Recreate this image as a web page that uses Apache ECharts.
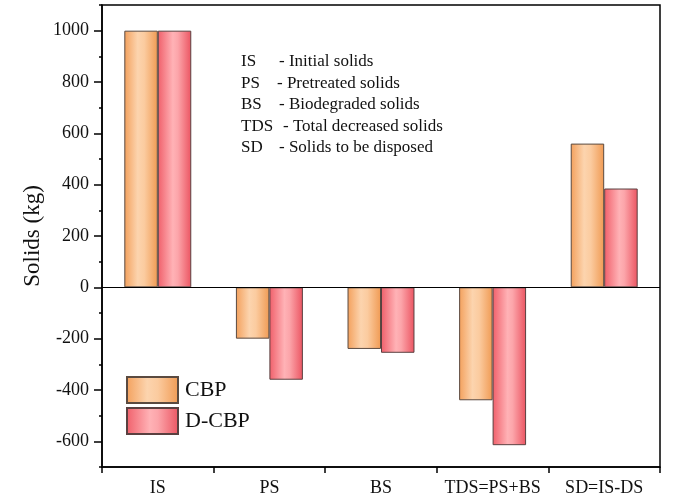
<!DOCTYPE html>
<html>
<head>
<meta charset="utf-8">
<script src="https://cdn.jsdelivr.net/npm/echarts@6/dist/echarts.min.js"></script>
<style>
  html, body { margin: 0; padding: 0; background: #fff; }
  #chart { width: 678px; height: 504px; }
</style>
</head>
<body>
<div id="chart"></div>
<script>
// Solids balance per stage (kg)
const categories = ['IS', 'PS', 'BS', 'TDS=PS+BS', 'SD=IS-DS'];
const cbp = [1000, -200, -240, -440, 560];
const dcbp = [1000, -360, -255, -615, 385];
const seriesNames = ['CBP', 'D-CBP'];

// Abbreviation key shown inside the plot
const keyAbbr = ['IS', 'PS', 'BS', 'TDS', 'SD'];
const keyText = ['- Initial solids', '- Pretreated solids', '- Biodegraded solids',
                 '- Total decreased solids', '- Solids to be disposed'];

const yMin = -700, yMax = 1100;       // full axis extent (minor ticks every 100)
const yLabMin = -600, yLabMax = 1000; // labelled range (major ticks every 200)

const W = 678, H = 504;
const gLeft = 102, gRight = 18, gTop = 5, gBottom = 37;
const plotH = H - gTop - gBottom;
const pxPerUnit = plotH / (yMax - yMin);
// second grid carries the labelled major ticks, aligned to the same scale
const g2Top = gTop + (yMax - yLabMax) * pxPerUnit;
const g2Bottom = gBottom + (yLabMin - yMin) * pxPerUnit;

const serif = '"Liberation Serif", "Times New Roman", serif';
const ink = '#111';
const tickStyle = { color: '#000', width: 1.5 };

function grad(stops) {
  return { type: 'linear', x: 0, y: 0, x2: 1, y2: 0,
    colorStops: stops.map(s => ({ offset: s[0], color: s[1] })) };
}
const orangeFill = grad([[0, '#f3a05c'], [0.4, '#fcd4ae'], [0.6, '#fbcb9f'], [1, '#f09a53']]);
const redFill = grad([[0, '#f05f6a'], [0.45, '#ffb2b6'], [0.6, '#fca5aa'], [1, '#eb5461']]);

const chart = echarts.init(document.getElementById('chart'), null, { renderer: 'canvas' });

const keyGraphics = [];
const keyTop = 53, keyStep = 21.6;
keyAbbr.forEach((a, i) => {
  keyGraphics.push({ type: 'text', left: 241, top: keyTop + i * keyStep,
    style: { text: a, font: '17px ' + serif, fill: ink } });
  keyGraphics.push({ type: 'text', left: a === 'TDS' ? 283 : (a === 'PS' ? 277 : 279), top: keyTop + i * keyStep,
    style: { text: keyText[i], font: '17px ' + serif, fill: ink } });
});

chart.setOption({
  animation: false,
  backgroundColor: '#fff',
  textStyle: { fontFamily: serif, color: ink },
  grid: [
    { left: gLeft, right: gRight, top: gTop, bottom: gBottom,
      show: true, borderColor: '#000', borderWidth: 1.5, backgroundColor: 'transparent' },
    { left: gLeft, right: gRight, top: g2Top, bottom: g2Bottom, show: false }
  ],
  legend: {
    orient: 'vertical', left: 121, top: 371,
    itemWidth: 51, itemHeight: 26, itemGap: 3,
    icon: 'rect',
    data: seriesNames,
    textStyle: { fontFamily: serif, fontSize: 22, color: ink, padding: [0, 0, 0, 2] }
  },
  xAxis: [
    // category labels, ticks at the category boundaries
    { type: 'category', gridIndex: 0, data: categories, position: 'bottom',
      axisLine: { onZero: false, lineStyle: { color: '#000', width: 1.5 } },
      axisTick: { show: true, length: 6, lineStyle: tickStyle },
      axisLabel: { interval: 0, fontFamily: serif, fontSize: 18, color: ink, margin: 12 } },
    { type: 'category', gridIndex: 1, data: categories, show: false }
  ],
  yAxis: [
    { type: 'value', gridIndex: 0, min: yMin, max: yMax, interval: 100,
      name: 'Solids (kg)', nameLocation: 'middle', nameGap: 58,
      nameTextStyle: { fontFamily: serif, fontSize: 23, color: ink },
      axisLine: { show: true, lineStyle: { color: '#000', width: 1.5 } },
      axisTick: { show: true, length: 3, lineStyle: tickStyle },
      axisLabel: { show: false },
      splitLine: { show: false } },
    { type: 'value', gridIndex: 1, min: yLabMin, max: yLabMax, interval: 200,
      axisLine: { show: false },
      axisTick: { show: true, length: 8, lineStyle: tickStyle },
      axisLabel: { fontFamily: serif, fontSize: 18, color: ink, margin: 13,
        formatter: v => String(v) },
      splitLine: { show: false } }
  ],
  series: [
    { name: 'CBP', type: 'bar', xAxisIndex: 0, yAxisIndex: 0, data: cbp,
      barWidth: '30%', barGap: '0%',
      itemStyle: { color: orangeFill, borderColor: '#5a4a40', borderWidth: 1 },
      markLine: { silent: true, symbol: 'none', label: { show: false },
        lineStyle: { color: '#000', width: 1.2, type: 'solid' },
        data: [{ yAxis: 0 }] } },
    { name: 'D-CBP', type: 'bar', xAxisIndex: 0, yAxisIndex: 0, data: dcbp,
      barWidth: '30%', barGap: '0%',
      itemStyle: { color: redFill, borderColor: '#5a4040', borderWidth: 1 } }
  ],
  graphic: keyGraphics
});
</script>
</body>
</html>
